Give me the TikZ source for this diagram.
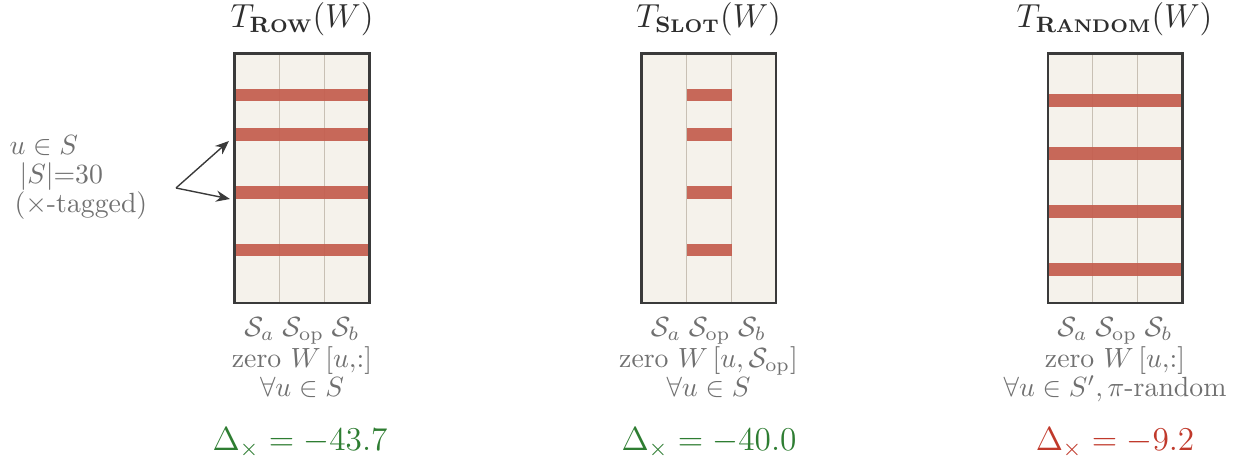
\documentclass[tikz,border=0pt]{standalone}
\usetikzlibrary{arrows.meta}
\definecolor{framecol}{HTML}{3A3A3A}
\definecolor{paper}{HTML}{F5F2EB}
\definecolor{divcol}{HTML}{C8C0B4}
\definecolor{barcol}{HTML}{C45E4E}
\definecolor{titlecol}{HTML}{2E2E2E}
\definecolor{labcol}{HTML}{707070}
\definecolor{goodcol}{HTML}{2E7D32}
\definecolor{badcol}{HTML}{C0392B}
\newcommand{\fsc}[2]{\mbox{\bfseries\fontsize{8}{8}\selectfont #1\fontsize{6.6}{7}\selectfont #2}}
\begin{document}
\begin{tikzpicture}[x=0.36pt,y=-0.36pt,
  frame/.style={draw=framecol,line width=0.95pt,fill=paper},
  divider/.style={draw=divcol,line width=0.55pt},
  bar/.style={fill=barcol,opacity=0.93},
  title/.style={anchor=base,inner sep=0pt,text=titlecol,font=\large},
  lab/.style={anchor=north,inner sep=0pt,text=labcol,align=center,
              font=\fontsize{10}{10.3}\selectfont},
  ann/.style={anchor=base west,inner sep=0pt,text=labcol,font=\normalsize},
  delta/.style={anchor=base,inner sep=0pt,font=\large},
  pointer/.style={draw=framecol,line width=0.5pt,-{Stealth[length=5pt,width=4pt]}}]
\useasboundingbox (0,0) rectangle (1242,459);

% ---------- panel 1 : ROW ----------
\draw[frame] (234.5,53.5) rectangle (369.5,303);
\draw[divider] (279.5,53.5) -- (279.5,303);
\draw[divider] (324.5,53.5) -- (324.5,303);
\foreach \c in {95,134.3,192.3,250}
  \fill[bar] (233.5,\c-6.3) rectangle (370.5,\c+6.3);
\draw[framecol,line width=0.95pt] (234.5,53.5) rectangle (369.5,303);

% ---------- panel 2 : SLOT ----------
\draw[frame] (641.5,53.5) rectangle (776,303);
\draw[divider] (686.5,53.5) -- (686.5,303);
\draw[divider] (731.5,53.5) -- (731.5,303);
\foreach \c in {95,134.3,192.3,250}
  \fill[bar] (686.5,\c-6.3) rectangle (731.5,\c+6.3);
\draw[framecol,line width=0.95pt] (641.5,53.5) rectangle (776,303);

% ---------- panel 3 : RANDOM ----------
\draw[frame] (1048,53.5) rectangle (1182.5,303);
\draw[divider] (1092.5,53.5) -- (1092.5,303);
\draw[divider] (1137.5,53.5) -- (1137.5,303);
\foreach \c in {100.5,153.3,211.3,269.3}
  \fill[bar] (1047,\c-6.3) rectangle (1183.5,\c+6.3);
\draw[framecol,line width=0.95pt] (1048,53.5) rectangle (1182.5,303);

% ---------- titles ----------
\node[title] (t1) at (302,28) {$T_{\fsc{R}{OW}}(W)$};
\node[title] (t2) at (708.5,28) {$T_{\fsc{S}{LOT}}(W)$};
\node[title] (t3) at (1114.5,28) {$T_{\fsc{R}{ANDOM}}(W)$};

% ---------- labels ----------
\node[lab] (l1) at (302,316.5) {$\mathcal{S}_a\;\mathcal{S}_{\mathrm{op}}\;\mathcal{S}_b$\\
  zero $W\,[u,\!:]$\\ $\forall u\in S$};
\node[lab] (l2) at (708.5,316.5) {$\mathcal{S}_a\;\mathcal{S}_{\mathrm{op}}\;\mathcal{S}_b$\\
  zero $W\,[u,\mathcal{S}_{\mathrm{op}}]$\\ $\forall u\in S$};
\node[lab] (l3) at (1115,316.5) {$\mathcal{S}_a\;\mathcal{S}_{\mathrm{op}}\;\mathcal{S}_b$\\
  zero $W\,[u,\!:]$\\ $\forall u\in S', \pi$-random};

% ---------- deltas ----------
\node[delta,text=goodcol] (d1) at (300,451) {$\Delta_{\times}=-43.7$};
\node[delta,text=goodcol] (d2) at (709,451) {$\Delta_{\times}=-40.0$};
\node[delta,text=badcol] (d3) at (1115,451) {$\Delta_{\times}=-9.2$};

% ---------- annotation ----------
\node[ann] (a1) at (9,155) {$u\in S$};
\node[ann] (a2) at (19,184) {$|S|{=}30$};
\node[ann] (a3) at (14,213) {($\times$-tagged)};
\coordinate (fork) at (176,188);
\coordinate (hitA) at (229,141);
\coordinate (hitB) at (230,199);
\draw[pointer] (fork) -- (hitA);
\draw[pointer] (fork) -- (hitB);
\end{tikzpicture}
\end{document}
